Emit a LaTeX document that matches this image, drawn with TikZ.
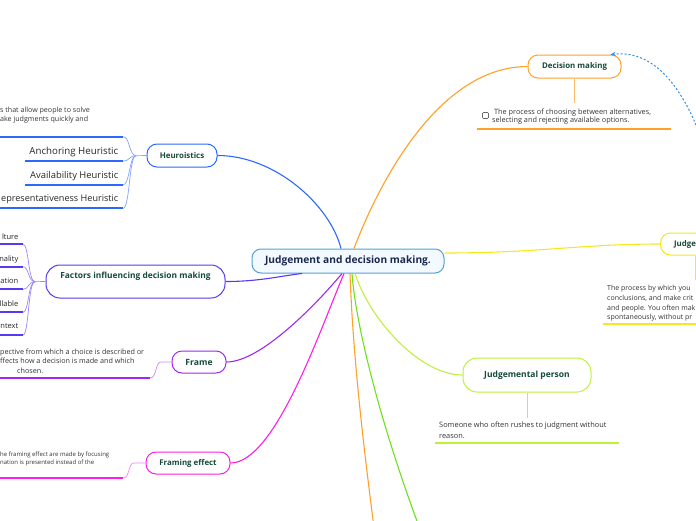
\documentclass[tikz,border=0pt]{standalone}
\usepackage{fontspec}
\setmainfont{Open Sans}
\usepackage{xcolor}
\usepackage{tikz}
\usetikzlibrary{arrows.meta,positioning,calc}
\definecolor{mmroot}{RGB}{84,160,214}
\definecolor{mmrootbg}{RGB}{242,249,255}
\definecolor{mmroottxt}{RGB}{26,40,80}
\definecolor{mmtxt}{RGB}{22,74,58}
\definecolor{mmdesc}{RGB}{51,51,51}
\definecolor{mmorange}{RGB}{255,160,40}
\definecolor{mmyellow}{RGB}{246,232,30}
\definecolor{mmblue}{RGB}{44,104,255}
\definecolor{mmviolet}{RGB}{88,56,240}
\definecolor{mmpurple}{RGB}{160,40,240}
\definecolor{mmmagenta}{RGB}{250,30,230}
\definecolor{mmlime}{RGB}{190,240,60}
\definecolor{mmgreen}{RGB}{110,224,30}
\definecolor{mmrel}{RGB}{50,140,230}
\tikzset{
  topic/.style={
    draw, line width=1pt, fill=white, rounded corners=10pt,
    align=center, inner sep=0pt, text=mmtxt,
    font=\fontsize{7.9}{9}\selectfont\bfseries
  },
  rootbox/.style={
    topic, draw=mmroot, fill=mmrootbg, text=mmroottxt,
    minimum width=192pt, minimum height=24pt, rounded corners=9pt,
    font=\fontsize{10.2}{12}\selectfont\bfseries
  },
  br/.style={line width=1.1pt},
  sub/.style={line width=0.7pt},
  uline/.style={line width=1.7pt},
  desc/.style={
    inner sep=0pt, align=left, text=mmdesc, anchor=base west,
    font=\fontsize{7.3}{8.5}\selectfont
  },
  item/.style={inner sep=0pt, text=black!85, anchor=east},
  chk/.style={draw=black!60, line width=0.6pt, rounded corners=1pt,
    minimum size=6pt, inner sep=0pt},
  rel/.style={draw=mmrel, line width=1pt, dash pattern=on 2pt off 2pt,
    -{Stealth[length=5pt,width=4pt]}}
}
\begin{document}
\begin{tikzpicture}[x=1pt,y=-1pt]
  \useasboundingbox (0,0) rectangle (696,520);

  % central topic
  \node[rootbox] (root) at (348,261) {Judgement and decision making.};

  % main topics
  \node[topic, draw=mmorange, minimum width=93pt, minimum height=23pt] (dm) at (574.5,66.5) {Decision making};
  \node[topic, draw=mmyellow, anchor=west, minimum width=70pt, minimum height=22pt] (judge) at (660,244) {Judgement};
  \node[topic, draw=mmblue, minimum width=70pt, minimum height=23pt] (heur) at (182,155.5) {Heuroistics};
  \node[topic, draw=mmviolet, minimum width=179pt, inner ysep=5.5pt, text height=8pt, text depth=14pt, rounded corners=14pt,
    font=\fontsize{8.4}{9}\selectfont\bfseries] (fact) at (135.5,281.5) {Factors influencing decision making};
  \node[topic, draw=mmpurple, minimum width=54pt, minimum height=22pt, font=\fontsize{8.6}{10}\selectfont\bfseries] (frame) at (199,362) {Frame};
  \node[topic, draw=mmmagenta, minimum width=84pt, minimum height=22pt, font=\fontsize{7.9}{10}\selectfont\bfseries] (feff) at (188,463) {Framing effect};
  \node[topic, draw=mmlime, minimum width=128pt, minimum height=34pt, rounded corners=14pt,
    font=\fontsize{8.5}{10}\selectfont\bfseries] (jperson) at (527,375) {Judgemental person};

  % off-page ends
  \coordinate (downo) at (377,550);
  \coordinate (downg) at (428,550);
  \coordinate (relend) at (702,140);

  % branches from the centre
  \draw[br, mmorange] ([xshift=6pt]root.north) .. controls (380,180) and (440,66.5) .. (dm.west);
  \draw[br, mmyellow] ([yshift=8pt]root.east) .. controls (540,253) and (580,244) .. (judge.west);
  \draw[br, mmblue] (heur.east) .. controls (275,155.5) and (330,205) .. ([xshift=-7pt]root.north);
  \draw[br, mmviolet] (fact.east) .. controls (260,281.5) and (280,276) .. ([xshift=-46pt]root.south);
  \draw[br, mmpurple] (frame.east) .. controls (262,362) and (320,300) .. ([xshift=-6pt]root.south);
  \draw[br, mmmagenta] (feff.east) .. controls (275,463) and (320,330) .. ([xshift=-4pt]root.south);
  \draw[br, mmlime] ([xshift=7pt]root.south) .. controls (370,320) and (420,375) .. (jperson.west);
  \draw[br, mmorange] ([xshift=2pt]root.south) .. controls (353,360) and (365,460) .. (downo);
  \draw[br, mmgreen] ([xshift=4pt]root.south) .. controls (356,330) and (385,440) .. (downg);

  % relationship
  \draw[rel] (relend) .. controls (680,80) and (650,50) .. ([xshift=-11pt]dm.north east);

  % Decision making note
  \coordinate (dmd) at (574.5,103);
  \draw[sub, mmorange!70] (dm.south) -- (dmd);
  \node[chk] (dmchk) at (485.5,115.5) {};
  \node[desc] (dmtxt) at (492,122.6) {\hspace{2pt}The process of choosing between alternatives,\\selecting and rejecting available options.};
  \draw[uline, mmorange] (477,128.7) -- (671,128.7);

  % Judgement note
  \coordinate (jdd) at (695,280);
  \draw[sub, mmyellow] (judge.south -| jdd) -- (jdd);
  \node[desc, font=\fontsize{7}{9.6}\selectfont] (jdtxt) at (607,319.6) {The process by which you\\conclusions, and make crit\\and people. You often mak\\spontaneously, without pr};
  \draw[uline, mmyellow] (603,324.3) -- (700,324.3);

  % Heuroistics
  \node[desc, font=\fontsize{7.1}{9}\selectfont] (hetxt) at (0,121.6) {s that allow people to solve\\ake judgments quickly and};
  \coordinate (hb) at (136,155.7);
  \coordinate (h1) at (123,136.7);
  \coordinate (h2) at (123,161);
  \coordinate (h3) at (123,185);
  \coordinate (h4) at (123,208.3);
  \draw[sub, mmblue!60] (heur.west) -- (hb);
  \draw[sub, mmblue!60] (hb) .. controls (129,155.7) and (130,136.7) .. (h1);
  \draw[sub, mmblue!60] (hb) .. controls (129,155.7) and (130,161) .. (h2);
  \draw[sub, mmblue!60] (hb) .. controls (129,155.7) and (130,185) .. (h3);
  \draw[sub, mmblue!60] (hb) .. controls (129,155.7) and (130,208.3) .. (h4);
  \draw[uline, mmblue] (h1) -- ++(-130,0);
  \draw[uline, mmblue] (h2) -- ++(-98,0);
  \draw[uline, mmblue] (h3) -- ++(-98,0);
  \draw[uline, mmblue] (h4) -- ++(-130,0);
  \node[item, font=\fontsize{9.7}{11}\selectfont] (anch) at (118.5,151.5) {Anchoring Heuristic};
  \node[item, font=\fontsize{9.4}{11}\selectfont] (avail) at (118.5,175.7) {Availability Heuristic};
  \node[item, font=\fontsize{9.1}{11}\selectfont] (repr) at (118.5,199.7) {epresentativeness Heuristic};

  % Factors
  \coordinate (fb) at (35,281.7);
  \coordinate (f1) at (23,244.3);
  \coordinate (f2) at (23,266.7);
  \coordinate (f3) at (23,289.3);
  \coordinate (f4) at (23,312.3);
  \coordinate (f5) at (23,335);
  \draw[sub, mmviolet!60] (fact.west) -- (fb);
  \draw[sub, mmviolet!60] (fb) .. controls (28,281.7) and (29,244.3) .. (f1);
  \draw[sub, mmviolet!60] (fb) .. controls (28,281.7) and (29,266.7) .. (f2);
  \draw[sub, mmviolet!60] (fb) .. controls (28,281.7) and (29,289.3) .. (f3);
  \draw[sub, mmviolet!60] (fb) .. controls (28,281.7) and (29,312.3) .. (f4);
  \draw[sub, mmviolet!60] (fb) .. controls (28,281.7) and (29,335) .. (f5);
  \draw[uline, mmviolet] (f1) -- ++(-30,0);
  \draw[uline, mmviolet] (f2) -- ++(-30,0);
  \draw[uline, mmviolet] (f3) -- ++(-30,0);
  \draw[uline, mmviolet] (f4) -- ++(-30,0);
  \draw[uline, mmviolet] (f5) -- ++(-30,0);
  \node[item, font=\fontsize{7.5}{8}\selectfont] (cult) at (18.5,236.5) {lture};
  \node[item, font=\fontsize{7.5}{8}\selectfont] (pers) at (18.5,259.3) {nality};
  \node[item, font=\fontsize{7.5}{8}\selectfont] (motiv) at (18.5,281.2) {ation};
  \node[item, font=\fontsize{7.5}{8}\selectfont] (avl) at (18.5,304) {llable};
  \node[item, font=\fontsize{7.5}{8}\selectfont] (cont) at (18.5,326.2) {ntext};

  % Frame
  \coordinate (frb) at (161,362);
  \coordinate (fr1) at (150,378);
  \draw[sub, mmpurple!55] (frame.west) -- (frb) .. controls (155,362) and (157,378) .. (fr1);
  \draw[uline, mmpurple] (fr1) -- ++(-155,0);
  \node[desc, font=\fontsize{7.2}{9.5}\selectfont] (frtxt) at (0,373.3) {pective from which a choice is described or\\ffects how a decision is made and which\\\hspace*{17pt}chosen.};

  % Framing effect
  \coordinate (feb) at (134,463);
  \coordinate (fe1) at (123,478);
  \draw[sub, mmmagenta!55] (feff.west) -- (feb) .. controls (128,463) and (130,478) .. (fe1);
  \draw[uline, mmmagenta] (fe1) -- ++(-128,0);
  \node[desc, font=\fontsize{6}{8.7}\selectfont] (fetxt) at (0,464.9) {he framing effect are made by focusing\\nation is presented instead of the};

  % Judgemental person
  \coordinate (jpd) at (527,417.5);
  \draw[sub, mmlime] (jperson.south) -- (jpd);
  \node[desc, font=\fontsize{7.4}{10.7}\selectfont] (jptxt) at (439,438.4) {Someone who often rushes to judgment without\\reason.};
  \draw[uline, mmlime] (435,443.3) -- (619,443.3);
\end{tikzpicture}
\end{document}
